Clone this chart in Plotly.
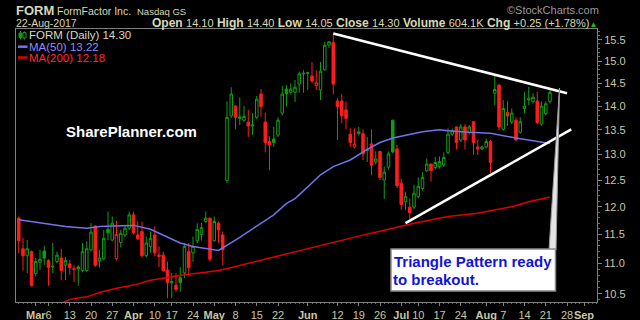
import math
import numpy as np
import pandas as pd
import plotly.graph_objects as go

# ---------------- data ----------------
START, END = "2017-02-23", "2017-09-08"
HOLIDAYS = ["2017-04-14", "2017-05-29", "2017-07-04", "2017-09-04"]

OPEN = [11.79, 11.25, 11.13, 11.20, 10.83, 11.02, 11.21, 11.05, 10.94, 11.03,
        11.09, 10.97, 10.99, 10.91, 10.94, 10.88, 10.88, 11.23, 11.65, 11.04,
        11.08, 11.59, 11.40, 11.08, 11.36, 11.49, 11.61, 11.85, 11.49, 11.55,
        11.13, 11.29, 11.49, 11.14, 11.14, 10.89, 10.68, 10.64, 10.76, 10.84,
        11.20, 11.18, 11.39, 11.50, 11.73, 11.79, 11.39, 11.70, 11.49, 12.49,
        13.79, 14.00, 13.74, 13.70, 13.66, 13.58, 13.76, 14.26, 13.66, 13.26,
        13.31, 13.39, 13.85, 14.37, 14.30, 14.30, 14.48, 14.71, 14.72, 14.66,
        14.45, 14.35, 14.80, 15.37, 15.43, 14.11, 14.11, 13.92, 13.41, 13.15,
        13.42, 13.42, 13.08, 13.21, 12.85, 13.06, 12.50, 12.75, 13.70, 13.11,
        12.44, 12.09, 11.99, 11.99, 12.19, 12.34, 12.68, 12.81, 12.74, 12.76,
        12.79, 13.04, 13.41, 13.56, 13.29, 13.56, 13.44, 13.67, 13.15, 13.11,
        13.15, 13.26, 14.28, 14.46, 13.51, 13.86, 13.66, 13.70, 13.45, 13.95,
        14.13, 14.10, 14.11, 13.62, 13.84, 14.10]
HIGH = [11.82, 11.44, 11.40, 11.22, 11.09, 11.23, 11.30, 11.07, 11.35, 11.20,
        11.25, 11.11, 11.06, 10.97, 10.97, 11.35, 11.38, 11.70, 11.66, 11.23,
        11.58, 11.91, 11.82, 11.74, 11.58, 11.67, 11.91, 11.91, 11.73, 11.73,
        11.46, 11.55, 11.64, 11.29, 11.20, 11.03, 10.84, 10.84, 10.94, 11.35,
        11.35, 11.46, 11.70, 11.71, 11.91, 11.80, 11.82, 11.73, 11.55, 14.10,
        14.41, 14.02, 14.19, 14.00, 13.92, 13.85, 14.22, 14.37, 13.86, 13.36,
        13.56, 13.76, 14.44, 14.46, 14.50, 14.57, 14.76, 14.79, 14.76, 14.98,
        14.79, 14.98, 15.45, 15.47, 15.65, 14.17, 14.26, 14.10, 13.53, 13.53,
        13.56, 13.51, 13.35, 13.51, 13.06, 13.07, 12.76, 13.06, 13.71, 13.19,
        12.53, 12.28, 12.15, 12.41, 12.55, 12.65, 12.92, 12.82, 12.95, 12.96,
        13.04, 13.53, 13.53, 13.57, 13.62, 13.62, 13.60, 13.68, 13.29, 13.18,
        13.32, 13.29, 14.68, 14.47, 14.13, 14.10, 13.95, 13.76, 13.76, 14.31,
        14.42, 14.28, 14.31, 14.10, 14.10, 14.40]
LOW = [11.18, 10.88, 10.84, 10.62, 10.78, 10.89, 10.97, 10.63, 10.84, 11.00,
       10.72, 10.72, 10.81, 10.69, 10.63, 10.85, 10.86, 11.20, 10.94, 10.93,
       11.05, 11.40, 11.38, 11.05, 11.27, 11.45, 11.58, 11.50, 11.40, 11.10,
       11.10, 11.18, 11.12, 10.94, 10.86, 10.43, 10.43, 10.53, 10.53, 10.76,
       10.81, 11.03, 11.35, 11.39, 11.70, 11.03, 11.37, 11.35, 10.97, 12.44,
       13.75, 13.51, 13.60, 13.66, 13.35, 13.39, 13.72, 13.77, 13.04, 12.69,
       13.15, 13.35, 13.80, 13.99, 14.25, 14.09, 14.29, 14.29, 14.35, 14.50,
       14.35, 14.13, 14.78, 15.30, 14.26, 13.29, 13.64, 13.51, 13.15, 13.12,
       13.38, 12.89, 12.85, 12.59, 12.80, 12.50, 12.14, 12.70, 13.02, 12.35,
       11.94, 11.94, 11.77, 11.95, 12.15, 12.30, 12.65, 12.47, 12.70, 12.72,
       12.75, 13.00, 13.37, 13.10, 13.25, 13.10, 13.40, 12.99, 12.99, 13.08,
       13.12, 12.63, 14.02, 13.49, 13.48, 13.58, 13.62, 13.26, 13.42, 13.85,
       14.02, 14.05, 13.62, 13.58, 13.80, 14.05]
CLOSE = [11.39, 11.13, 11.25, 10.63, 11.03, 11.07, 11.09, 10.93, 10.95, 11.14,
         10.88, 11.05, 10.93, 10.90, 10.91, 11.20, 11.25, 11.54, 10.97, 11.09,
         11.43, 11.53, 11.70, 11.50, 11.52, 11.61, 11.85, 11.53, 11.43, 11.13,
         11.35, 11.43, 11.18, 11.12, 10.88, 10.68, 10.70, 10.57, 10.68, 11.29,
         10.93, 11.29, 11.59, 11.62, 11.79, 11.07, 11.73, 11.58, 11.23, 13.76,
         14.26, 13.76, 13.77, 13.78, 13.58, 13.60, 14.15, 13.99, 13.24, 13.19,
         13.24, 13.70, 14.26, 14.27, 14.37, 14.41, 14.71, 14.72, 14.73, 14.55,
         14.51, 14.77, 15.37, 15.45, 14.48, 13.99, 13.79, 13.74, 13.24, 13.21,
         13.46, 13.01, 13.10, 12.79, 12.91, 12.55, 12.65, 13.01, 13.05, 12.39,
         12.04, 12.19, 11.89, 12.25, 12.38, 12.55, 12.81, 12.68, 12.84, 12.86,
         12.94, 13.41, 13.48, 13.24, 13.56, 13.29, 13.56, 13.24, 13.11, 13.15,
         13.26, 12.84, 14.36, 13.56, 13.95, 13.79, 13.85, 13.29, 13.67, 14.00,
         14.17, 14.19, 13.65, 14.00, 14.05, 14.30]

MA50_DATES = ["2017-02-23", "2017-03-06", "2017-03-10", "2017-03-17", "2017-03-22",
              "2017-03-27", "2017-04-03", "2017-04-07", "2017-04-13", "2017-04-19",
              "2017-04-24", "2017-04-27", "2017-05-02", "2017-05-08", "2017-05-11",
              "2017-05-16", "2017-05-19", "2017-05-24", "2017-05-26", "2017-06-01",
              "2017-06-06", "2017-06-09", "2017-06-15", "2017-06-21", "2017-06-26",
              "2017-06-29", "2017-07-05", "2017-07-11", "2017-07-17", "2017-07-19",
              "2017-07-26", "2017-08-02", "2017-08-10", "2017-08-17", "2017-08-22"]
MA50 = [11.76, 11.68, 11.64, 11.61, 11.64, 11.65, 11.66, 11.59, 11.46, 11.35,
        11.29, 11.26, 11.22, 11.40, 11.55, 11.71, 11.85, 12.06, 12.15, 12.37,
        12.60, 12.76, 12.89, 13.10, 13.24, 13.33, 13.39, 13.46, 13.50, 13.48,
        13.45, 13.43, 13.33, 13.26, 13.22]

MA200_DATES = ["2017-03-09", "2017-03-13", "2017-03-17", "2017-03-22", "2017-03-28",
               "2017-04-03", "2017-04-07", "2017-04-13", "2017-04-20", "2017-04-27",
               "2017-05-02", "2017-05-05", "2017-05-11", "2017-05-17", "2017-05-24",
               "2017-06-08", "2017-06-19", "2017-06-28", "2017-07-07", "2017-07-19",
               "2017-07-28", "2017-08-09", "2017-08-15", "2017-08-22"]
MA200 = [10.35, 10.41, 10.45, 10.52, 10.59, 10.64, 10.72, 10.77, 10.81, 10.85,
         10.88, 10.93, 11.00, 11.07, 11.16, 11.35, 11.47, 11.59, 11.70, 11.82,
         11.88, 12.00, 12.09, 12.18]

TREND_UPPER_DATES = ["2017-06-09", "2017-08-28"]
TREND_UPPER = [15.65, 14.28]
TREND_LOWER_DATES = ["2017-07-05", "2017-08-29"]
TREND_LOWER = [11.70, 13.51]

TICK_DATES = ["2017-03-01", "2017-03-06", "2017-03-13", "2017-03-20", "2017-03-27",
              "2017-04-03", "2017-04-10", "2017-04-17", "2017-04-24",
              "2017-05-01", "2017-05-08", "2017-05-15", "2017-05-22",
              "2017-06-01", "2017-06-12", "2017-06-19", "2017-06-26",
              "2017-07-03", "2017-07-10", "2017-07-17", "2017-07-24",
              "2017-08-01", "2017-08-07", "2017-08-14", "2017-08-21", "2017-08-28",
              "2017-09-01"]
TICK_TEXT = ["<b>Mar</b>", "6", "13", "20", "27",
             "<b>Apr</b>", "10", "17", "24",
             "<b>May</b>", "8", "15", "22",
             "<b>Jun</b>", "12", "19", "26",
             "<b>Jul</b>", "10", "17", "24",
             "<b>Aug</b>", "7", "14", "21", "28",
             "<b>Sep</b>"]
Y_TICKS = [10.5, 11.0, 11.5, 12.0, 12.5, 13.0, 13.5, 14.0, 14.5, 15.0, 15.5]

# ---------------- style ----------------
BG = "#000000"
GREEN = "#129c12"
RED = "#ff1c1c"
MA50_COL = "#7272ec"
MA200_COL = "#e00000"
AXIS_TXT = "#c8c8a0"
HEAD_TXT = "#d8d8b4"
FONT = "Liberation Sans, Arial, sans-serif"

W, H = 640, 320
L, R, T, B = 16, 597, 29, 302
X0_PX, DX_PX = 18.75, 4.25           # pixel of first session, pixels per session
Y155_PX, PX_PER_LN = 39.7, 652.3      # pixel of 15.5, pixels per ln unit


def fx(x):
    return (x - L) / (R - L)


def fy(y):
    return (B - y) / (B - T)


days = [d.strftime("%Y-%m-%d") for d in pd.bdate_range(START, END)]
days = [d for d in days if d not in HOLIDAYS]
pos = {d: i for i, d in enumerate(days)}

n = len(CLOSE)
prev = [OPEN[0]] + CLOSE[:-1]
gsel = [i for i in range(n) if CLOSE[i] >= prev[i]]
rsel = [i for i in range(n) if CLOSE[i] < prev[i]]


def candle(sel, col):
    return go.Candlestick(
        x=sel,
        open=[OPEN[i] for i in sel], high=[HIGH[i] for i in sel],
        low=[LOW[i] for i in sel], close=[CLOSE[i] for i in sel],
        increasing=dict(line=dict(color=col, width=1), fillcolor=BG),
        decreasing=dict(line=dict(color=col, width=1), fillcolor=col),
        whiskerwidth=0, showlegend=False, hoverinfo="skip")


fig = go.Figure()
fig.add_trace(candle(gsel, GREEN))
fig.add_trace(candle(rsel, RED))
fig.add_trace(go.Scatter(x=[pos[d] for d in MA50_DATES], y=MA50, mode="lines",
                         line=dict(color=MA50_COL, width=1.5), showlegend=False, hoverinfo="skip"))
fig.add_trace(go.Scatter(x=[pos[d] for d in MA200_DATES], y=MA200, mode="lines",
                         line=dict(color=MA200_COL, width=1.5), showlegend=False, hoverinfo="skip"))
fig.add_trace(go.Scatter(x=[pos[d] for d in TREND_UPPER_DATES], y=TREND_UPPER, mode="lines",
                         line=dict(color="#ffffff", width=2.5), showlegend=False, hoverinfo="skip"))
fig.add_trace(go.Scatter(x=[pos[d] for d in TREND_LOWER_DATES], y=TREND_LOWER, mode="lines",
                         line=dict(color="#ffffff", width=2.5), showlegend=False, hoverinfo="skip"))

ln10 = math.log(10)
ln_top = math.log(15.5) + (Y155_PX - T) / PX_PER_LN
ln_bot = math.log(15.5) - (B - Y155_PX) / PX_PER_LN
x_lo = (L - X0_PX) / DX_PX
x_hi = (R - X0_PX) / DX_PX

annotations = []


def txt(x, y, s, size, color, anchor="left", family=FONT):
    annotations.append(dict(x=fx(x), y=fy(y), xref="paper", yref="paper", text=s,
                            showarrow=False, xanchor=anchor, yanchor="middle",
                            font=dict(family=family, size=size, color=color),
                            borderpad=0))


# header
txt(15, 10, "<b>FORM</b>", 13, HEAD_TXT)
txt(56, 11, "FormFactor Inc.", 10.5, HEAD_TXT)
txt(136, 11.5, "Nasdaq GS", 9.5, HEAD_TXT)
txt(600, 10, "©StockCharts.com", 11, "#9a9a9a", anchor="right")
txt(15, 23, "22-Aug-2017", 10.5, HEAD_TXT)
v = "<span style='font-size:11px'>%s</span>"
ohlc = ("<b>Open</b> " + v % "14.10" + " <b>High</b> " + v % "14.40" +
        " <b>Low</b> " + v % "14.05" + " <b>Close</b> " + v % "14.30" +
        " <b>Volume</b> " + v % "604.1K" + " <b>Chg</b> " + v % "+0.25 (+1.78%)" +
        "<span style='color:#19c019;font-size:8px'>▲</span>")
txt(598, 23, ohlc, 12, HEAD_TXT, anchor="right")

# legend
txt(28, 35, "FORM (Daily) 14.30", 11.5, "#d8d8c0")
txt(28, 47, "MA(50) 13.22", 11.5, "#8c8cff")
txt(28, 58.5, "MA(200) 12.18", 11.5, "#ff2a2a")

# watermark and callout
txt(65, 131, "<b>SharePlanner.com</b>", 15, "#ffffff")
txt(393, 261.5, "<b>Triangle Pattern ready</b>", 15, "#1212d8")
txt(392, 279, "<b>to breakout.</b>", 15, "#1212d8")

shapes = []
# legend icons
shapes.append(dict(type="line", xref="paper", yref="paper", x0=fx(20.5), x1=fx(20.5),
                   y0=fy(31), y1=fy(39.5), line=dict(color=GREEN, width=1)))
shapes.append(dict(type="rect", xref="paper", yref="paper", x0=fx(19), x1=fx(22),
                   y0=fy(33), y1=fy(37.5), line=dict(color=GREEN, width=1), fillcolor=GREEN))
shapes.append(dict(type="line", xref="paper", yref="paper", x0=fx(24.5), x1=fx(24.5),
                   y0=fy(31.5), y1=fy(39.5), line=dict(color=GREEN, width=1)))
shapes.append(dict(type="rect", xref="paper", yref="paper", x0=fx(23), x1=fx(26),
                   y0=fy(32.5), y1=fy(38), line=dict(color=GREEN, width=1), fillcolor=BG))
shapes.append(dict(type="line", xref="paper", yref="paper", x0=fx(18), x1=fx(27.5),
                   y0=fy(46.7), y1=fy(46.7), line=dict(color=MA50_COL, width=2.5)))
shapes.append(dict(type="line", xref="paper", yref="paper", x0=fx(18), x1=fx(27.5),
                   y0=fy(57.5), y1=fy(57.5), line=dict(color=MA200_COL, width=2.5)))
# callout pointer and box
shapes.append(dict(type="path", xref="paper", yref="paper",
                   path="M %f,%f L %f,%f L %f,%f Z" % (fx(559.5), fy(88), fx(549), fy(250),
                                                        fx(556), fy(250)),
                   fillcolor="#e4e4e4", line=dict(color="#9a9a9a", width=1), layer="above"))
shapes.append(dict(type="rect", xref="paper", yref="paper", x0=fx(391), x1=fx(555.5),
                   y0=fy(291), y1=fy(249), fillcolor="#ffffff",
                   line=dict(color="#8a8a8a", width=1.5), layer="above"))

fig.update_layout(
    width=W, height=H,
    margin=dict(l=L, r=W - R, t=T, b=H - B, pad=0),
    paper_bgcolor=BG, plot_bgcolor=BG,
    showlegend=False,
    boxgap=0.15,
    annotations=annotations,
    shapes=shapes,
    font=dict(family=FONT, color=AXIS_TXT),
    xaxis=dict(
        range=[x_lo, x_hi], rangeslider=dict(visible=False), automargin=False,
        tickmode="array", tickvals=[pos[d] for d in TICK_DATES], ticktext=TICK_TEXT,
        tickangle=0, tickfont=dict(family=FONT, size=11, color=AXIS_TXT),
        ticks="outside", ticklen=3, tickcolor="#808080",
        minor=dict(dtick=1, tick0=0, ticks="outside", ticklen=1, tickcolor="#606060"),
        showgrid=False, zeroline=False,
        showline=True, linecolor="#808080", linewidth=1, mirror=True,
    ),
    yaxis=dict(
        type="log", side="right", range=[ln_bot / ln10, ln_top / ln10], automargin=False,
        tickmode="array", tickvals=Y_TICKS, ticktext=["%.1f" % t for t in Y_TICKS],
        tickfont=dict(family=FONT, size=11, color=AXIS_TXT),
        ticks="outside", ticklen=4, tickcolor="#808080",
        minor=dict(tickmode="array", tickvals=[round(10.4 + 0.1 * k, 1) for k in range(54)],
                   ticks="outside", ticklen=2, tickcolor="#707070"),
        showgrid=False, zeroline=False,
        showline=True, linecolor="#808080", linewidth=1, mirror=True,
    ),
)

fig.write_html("out.html")
